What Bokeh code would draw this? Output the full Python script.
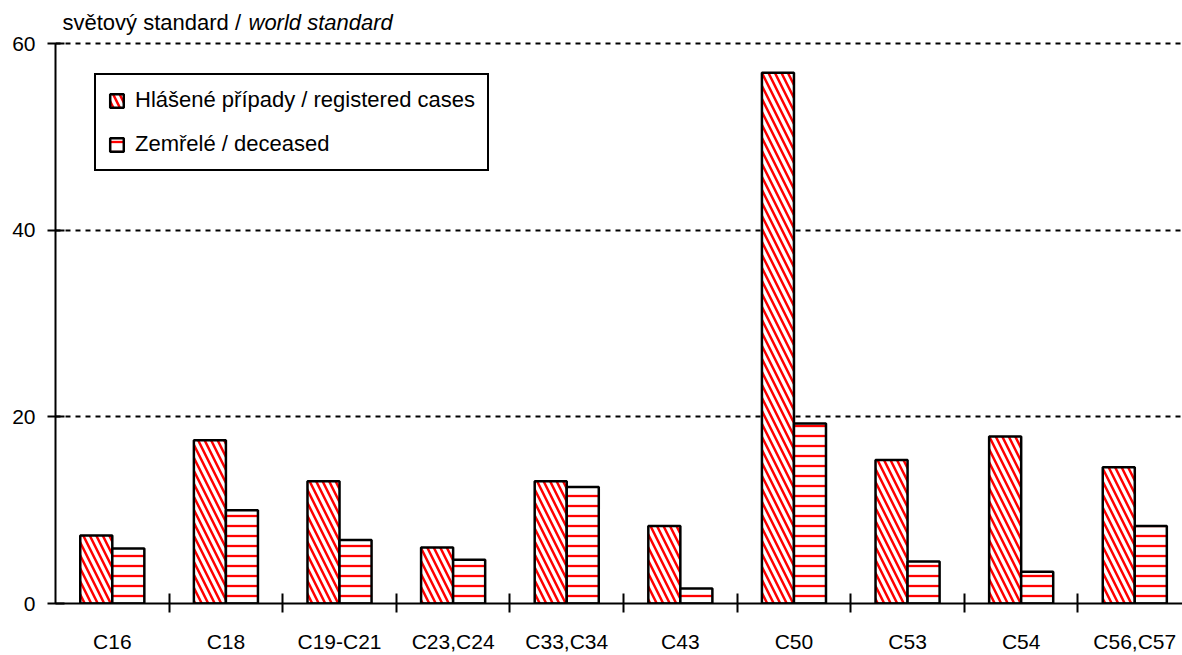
from bokeh.plotting import figure
from bokeh.models import Range1d, FixedTicker, Label, Legend, LegendItem, ColumnDataSource
from bokeh.transform import dodge
from bokeh.embed import file_html
from bokeh.resources import INLINE

# ---- data ----
categories = ["C16", "C18", "C19-C21", "C23,C24", "C33,C34", "C43", "C50", "C53", "C54", "C56,C57"]
registered = [7.3, 17.5, 13.1, 6.0, 13.1, 8.3, 56.9, 15.4, 17.9, 14.6]
deceased = [5.9, 10.0, 6.8, 4.7, 12.5, 1.6, 19.3, 4.5, 3.4, 8.3]
y_ticks = [0, 20, 40, 60]
series_names = ["Hlášené případy / registered cases", "Zemřelé / deceased"]
title_cz = "světový standard / "
title_en = "world standard"

positions = list(range(1, len(categories) + 1))
boundaries = [i + 0.5 for i in positions[:-1]]

FONT = "Liberation Sans"
FS = "21px"
FS_L = "22px"

src = ColumnDataSource(dict(x=positions, reg=registered, dec=deceased))

# frame extends up to the top of the canvas so the heading text is not clipped;
# the axis line itself is bounded to 0..60
p = figure(width=1182, height=655,
           x_range=Range1d(0.5, 10.42), y_range=Range1d(0, 64.66),
           output_backend="svg", toolbar_location=None,
           min_border_left=55, min_border_right=0,
           min_border_top=0, min_border_bottom=52)

bw = 0.282
r1 = p.vbar(x=dodge("x", -bw / 2, range=p.x_range), top="reg", width=bw, source=src,
            fill_color="white", line_color="black", line_width=2.5,
            hatch_pattern="\\", hatch_color="red", hatch_weight=2.5, hatch_scale=13)
r2 = p.vbar(x=dodge("x", bw / 2, range=p.x_range), top="dec", width=bw, source=src,
            fill_color="white", line_color="black", line_width=2.5,
            hatch_pattern="-", hatch_color="red", hatch_weight=2.3, hatch_scale=10)

# x axis
xa = p.xaxis[0]
xa.ticker = FixedTicker(ticks=positions, minor_ticks=boundaries)
xa.major_label_overrides = {pos: c for pos, c in zip(positions, categories)}
xa.major_tick_in = 0
xa.major_tick_out = 0
xa.minor_tick_in = 10
xa.minor_tick_out = 9
xa.minor_tick_line_width = 2
xa.minor_tick_line_color = "black"
xa.axis_line_width = 2
xa.axis_line_color = "black"
xa.major_label_standoff = 17
xa.major_label_text_font = FONT
xa.major_label_text_font_size = FS
xa.major_label_text_color = "black"

# y axis
ya = p.yaxis[0]
ya.ticker = FixedTicker(ticks=y_ticks, minor_ticks=[])
ya.bounds = (y_ticks[0], y_ticks[-1])
ya.major_tick_in = 9
ya.major_tick_out = 8
ya.major_tick_line_width = 2
ya.major_tick_line_color = "black"
ya.minor_tick_line_color = None
ya.axis_line_width = 2
ya.axis_line_color = "black"
ya.major_label_standoff = 12
ya.major_label_text_font = FONT
ya.major_label_text_font_size = FS
ya.major_label_text_color = "black"

p.xgrid.visible = False
p.ygrid.ticker = FixedTicker(ticks=y_ticks)
p.ygrid.grid_line_color = "black"
p.ygrid.grid_line_dash = "5 5"
p.ygrid.grid_line_width = 2
p.outline_line_color = None

legend = Legend(items=[LegendItem(label=series_names[0], renderers=[r1]),
                       LegendItem(label=series_names[1], renderers=[r2])],
                location=(39, 432), orientation="vertical",
                border_line_color="black", border_line_width=2, border_line_alpha=1,
                background_fill_color="white", background_fill_alpha=1,
                padding=12, spacing=18, margin=0,
                glyph_width=17, glyph_height=17, label_standoff=10, label_height=25,
                label_text_font=FONT, label_text_font_size=FS_L, label_text_color="black")
p.add_layout(legend)

t1 = Label(x=7, y=581, x_units="screen", y_units="screen", text=title_cz,
           text_baseline="middle", text_font=FONT, text_font_size=FS_L, text_color="black")
t2 = Label(x=193, y=581, x_units="screen", y_units="screen", text=title_en,
           text_baseline="middle", text_font=FONT, text_font_size=FS_L, text_color="black",
           text_font_style="italic")
p.add_layout(t1)
p.add_layout(t2)

open("out.html", "w").write(file_html(p, INLINE))
